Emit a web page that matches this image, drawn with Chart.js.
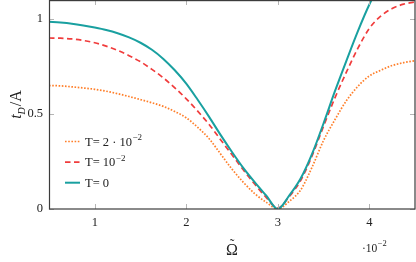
<!DOCTYPE html>
<html>
<head>
<meta charset="utf-8">
<script src="https://cdn.jsdelivr.net/npm/chart.js@4.4.1/dist/chart.umd.min.js"></script>
<style>
    html, body { margin: 0; padding: 0; background: #fff; }
    #wrap { width: 416px; height: 262px; position: relative; }
</style>
</head>
<body>
<div id="wrap"><canvas id="tdChart" width="416" height="262"></canvas></div>
<script>
// ====================== //
// DATA                   //
// ====================== //

// Omega tilde (x 10^-2)
const OMEGA = [0.5, 0.625, 0.75, 0.875, 1.0, 1.125, 1.25, 1.375, 1.5, 1.625, 1.75, 1.875,
               2.0, 2.125, 2.25, 2.375, 2.5, 2.625, 2.75, 2.875, 3.0, 3.125, 3.25, 3.375,
               3.5, 3.625, 3.75, 3.875, 4.0, 4.125, 4.25, 4.375, 4.5];

// t_D / A for each temperature
const T_ZERO = [0.985, 0.981, 0.975, 0.966, 0.955, 0.942, 0.925, 0.903, 0.875, 0.838, 0.79, 0.73,
                0.66, 0.575, 0.485, 0.39, 0.30, 0.215, 0.14, 0.07, 0.0, 0.07, 0.16, 0.29,
                0.45, 0.62, 0.78, 0.935, 1.075, 1.19, 1.29, 1.37, 1.43];
const T_ONE  = [0.90, 0.899, 0.895, 0.887, 0.875, 0.857, 0.835, 0.807, 0.775, 0.735, 0.69, 0.638,
                0.58, 0.515, 0.445, 0.365, 0.285, 0.205, 0.13, 0.06, 0.005, 0.065, 0.15, 0.28,
                0.435, 0.585, 0.72, 0.845, 0.95, 1.015, 1.055, 1.078, 1.09];
const T_TWO  = [0.65, 0.648, 0.643, 0.637, 0.63, 0.62, 0.607, 0.592, 0.576, 0.559, 0.54, 0.513,
                0.48, 0.43, 0.37, 0.29, 0.21, 0.14, 0.08, 0.035, 0.0, 0.04, 0.10, 0.22,
                0.36, 0.47, 0.57, 0.645, 0.70, 0.73, 0.755, 0.77, 0.78];

const X_TICKS = [1, 2, 3, 4];
const Y_TICKS = [0, 0.5, 1];
const Y_TICK_LABELS = ['0', '0.5', '1'];

// legend text: [main, superscript]
const LEGEND_T_TWO  = ['T= 2 \u00b7 10', '\u22122'];
const LEGEND_T_ONE  = ['T= 10', '\u22122'];
const LEGEND_T_ZERO = ['T= 0', ''];

const SERIF = '"Liberation Serif", "DejaVu Serif", serif';

const toPoints = (ys) => OMEGA.map((x, i) => ({ x: x, y: ys[i] }));

// ====================== //
// PLUGINS                //
// ====================== //

// pgfplots style box with inward ticks
const frameTicks = {
    id: 'frameTicks',
    afterDatasetsDraw(chart) {
        const { ctx, chartArea: a, scales } = chart;
        ctx.save();
        ctx.strokeStyle = '#b5b5b5';
        ctx.lineWidth = 1;
        ctx.beginPath();
        X_TICKS.forEach(v => {
            const px = Math.round(scales.x.getPixelForValue(v)) + 0.5;
            ctx.moveTo(px, a.bottom); ctx.lineTo(px, a.bottom - 5);
            ctx.moveTo(px, a.top); ctx.lineTo(px, a.top + 5);
        });
        Y_TICKS.forEach(v => {
            const py = Math.round(scales.y.getPixelForValue(v)) + 0.5;
            ctx.moveTo(a.left, py); ctx.lineTo(a.left + 5, py);
            ctx.moveTo(a.right, py); ctx.lineTo(a.right - 5, py);
        });
        ctx.stroke();

        ctx.strokeStyle = '#3c3c3c';
        ctx.lineWidth = 1.2;
        ctx.strokeRect(a.left + 0.5, a.top + 0.6, a.right - a.left - 0.5, a.bottom - a.top - 0.6);
        ctx.restore();
    }
};

const annotations = {
    id: 'annotations',
    afterDraw(chart) {
        const { ctx, chartArea: a } = chart;
        const sets = chart.data.datasets;
        ctx.save();

        // legend (inside, lower left)
        const rows = [
            [sets[2], LEGEND_T_TWO],
            [sets[1], LEGEND_T_ONE],
            [sets[0], LEGEND_T_ZERO]
        ];
        rows.forEach(([ds, txt], i) => {
            const yy = a.bottom - 67.5 + i * 20.6;
            ctx.strokeStyle = ds.borderColor;
            ctx.lineWidth = ds.borderWidth;
            ctx.setLineDash(ds.borderDash || []);
            ctx.beginPath();
            ctx.moveTo(a.left + 16, yy);
            ctx.lineTo(a.left + 31, yy);
            ctx.stroke();
            ctx.setLineDash([]);

            ctx.fillStyle = '#222';
            ctx.textBaseline = 'alphabetic';
            ctx.textAlign = 'left';
            ctx.font = '12.5px ' + SERIF;
            ctx.fillText(txt[0], a.left + 36, yy + 4.3);
            if (txt[1]) {
                const w = ctx.measureText(txt[0]).width;
                ctx.font = '9px ' + SERIF;
                ctx.fillText(txt[1], a.left + 36 + w + 0.5, yy - 1.5);
            }
        });

        // x axis title: Omega tilde
        const cx = (a.left + a.right) / 2;
        ctx.fillStyle = '#222';
        ctx.textAlign = 'center';
        ctx.font = '16px ' + SERIF;
        ctx.fillText('\u03a9', cx, 255);
        ctx.font = '14px ' + SERIF;
        ctx.fillText('\u02dc', cx, 249);

        // scale factor
        ctx.textAlign = 'left';
        ctx.font = '11.5px ' + SERIF;
        ctx.fillText('\u00b710', 362, 252);
        const w10 = ctx.measureText('\u00b710').width;
        ctx.font = '8.5px ' + SERIF;
        ctx.fillText('\u22122', 362 + w10 + 0.5, 246);

        // y axis title: t_D / A (rotated)
        ctx.translate(21, (a.top + a.bottom) / 2);
        ctx.rotate(-Math.PI / 2);
        ctx.font = 'italic 16px ' + SERIF;
        const wt = ctx.measureText('t').width;
        ctx.font = 'italic 10px ' + SERIF;
        const wd = ctx.measureText('D').width;
        ctx.font = '16px ' + SERIF;
        const wa = ctx.measureText('/A').width;
        let x0 = -(wt + wd + wa + 1) / 2;
        ctx.textAlign = 'left';
        ctx.font = 'italic 16px ' + SERIF;
        ctx.fillText('t', x0, 0);
        ctx.font = 'italic 10px ' + SERIF;
        ctx.fillText('D', x0 + wt, 3.5);
        ctx.font = '16px ' + SERIF;
        ctx.fillText('/A', x0 + wt + wd + 1, 0);

        ctx.restore();
    }
};

// ====================== //
// CHART                  //
// ====================== //

document.addEventListener('DOMContentLoaded', () => {
    const ctx = document.getElementById('tdChart');
    new Chart(ctx, {
        type: 'line',
        data: {
            datasets: [
                {
                    label: 'T= 0',
                    data: toPoints(T_ZERO),
                    borderColor: '#19a0a0',
                    borderWidth: 2,
                    order: 0
                },
                {
                    label: 'T= 10^-2',
                    data: toPoints(T_ONE),
                    borderColor: '#f03c3c',
                    borderWidth: 1.7,
                    borderDash: [5.5, 3.5],
                    order: 1
                },
                {
                    label: 'T= 2*10^-2',
                    data: toPoints(T_TWO),
                    borderColor: '#ff7f2a',
                    borderWidth: 1.7,
                    borderDash: [1.6, 1.6],
                    order: 2
                }
            ]
        },
        options: {
            responsive: false,
            animation: false,
            layout: { padding: { top: 0, right: 1, left: 0, bottom: 0 } },
            elements: {
                point: { radius: 0 },
                line: { cubicInterpolationMode: 'monotone', fill: false }
            },
            plugins: {
                legend: { display: false },
                tooltip: { enabled: false }
            },
            scales: {
                x: {
                    type: 'linear',
                    min: 0.5,
                    max: 4.5,
                    grid: { display: false, drawTicks: false },
                    border: { display: false },
                    afterBuildTicks: (scale) => { scale.ticks = X_TICKS.map(v => ({ value: v })); },
                    afterFit: (scale) => {
                        scale.height = 53;
                        scale.paddingLeft = 0;
                        scale.paddingRight = 0;
                    },
                    ticks: {
                        padding: 6,
                        color: '#222',
                        font: { family: SERIF, size: 12.5 },
                        maxRotation: 0,
                        callback: (v) => String(v)
                    }
                },
                y: {
                    min: 0,
                    max: 1.1,
                    grid: { display: false, drawTicks: false },
                    border: { display: false },
                    afterBuildTicks: (scale) => { scale.ticks = Y_TICKS.map(v => ({ value: v })); },
                    afterFit: (scale) => {
                        scale.width = 49;
                        scale.paddingTop = 0;
                        scale.paddingBottom = 0;
                    },
                    ticks: {
                        padding: 6,
                        color: '#222',
                        font: { family: SERIF, size: 12.5 },
                        callback: (v) => Y_TICK_LABELS[Y_TICKS.indexOf(v)]
                    }
                }
            }
        },
        plugins: [frameTicks, annotations]
    });
});
</script>
</body>
</html>
